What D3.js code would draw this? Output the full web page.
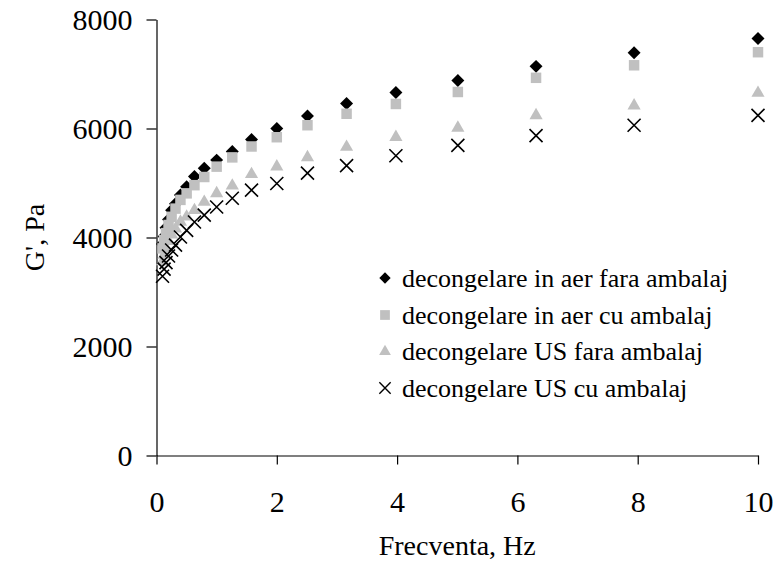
<!DOCTYPE html>
<html>
<head>
<meta charset="utf-8">
<script src="https://cdn.jsdelivr.net/npm/d3@7"></script>
<style>
  html, body { margin: 0; padding: 0; background: #fff; }
  svg { display: block; font-family: "Liberation Serif", "Times New Roman", serif; }
</style>
</head>
<body>
<svg id="chart" width="776" height="561"></svg>
<script>
// Oscillation frequency, Hz
const freq = [0.1, 0.126, 0.158, 0.2, 0.251, 0.316, 0.398, 0.501, 0.631, 0.794, 1, 1.26, 1.58, 2, 2.51, 3.16, 3.98, 5.01, 6.31, 7.94, 10];

// Storage modulus G', Pa
const aerFara = [3880, 4020, 4180, 4330, 4500, 4620, 4780, 4930, 5120, 5270, 5420, 5580, 5800, 6000, 6230, 6460, 6660, 6880, 7140, 7390, 7650];
const aerCu   = [3800, 3950, 4080, 4230, 4380, 4530, 4690, 4810, 4960, 5110, 5300, 5470, 5670, 5840, 6060, 6270, 6450, 6670, 6930, 7160, 7400];
const usFara  = [3560, 3680, 3800, 3930, 4050, 4160, 4285, 4380, 4500, 4650, 4810, 4950, 5160, 5300, 5470, 5660, 5840, 6010, 6240, 6420, 6650];
const usCu    = [3290, 3420, 3540, 3660, 3770, 3860, 4010, 4130, 4285, 4410, 4560, 4720, 4870, 4990, 5180, 5320, 5500, 5690, 5870, 6060, 6240];

const seriesNames = [
  "decongelare in aer fara ambalaj",
  "decongelare in aer cu ambalaj",
  "decongelare US fara ambalaj",
  "decongelare US cu ambalaj"
];

const xTicks = [0, 2, 4, 6, 8, 10];
const yTicks = [0, 2000, 4000, 6000, 8000];

const svg = d3.select("#chart");
const plotLeft = 156.5, plotRight = 758, plotTop = 19.5, plotBottom = 455.5;

const x = d3.scaleLinear().domain([0, 10]).range([plotLeft, plotRight]);
const y = d3.scaleLinear().domain([0, 8000]).range([plotBottom, plotTop]);

// Marker styles per series
const styles = [
  { sym: d3.symbolSquare, size: 84, rot: 45, fill: "#000", stroke: "none", lsize: 64 },
  { sym: d3.symbolSquare, size: 110, rot: 0, fill: "#c0c0c0", stroke: "none", lsize: 95 },
  { sym: d3.symbolTriangle, size: 75, rot: 0, fill: "#c0c0c0", stroke: "none", lsize: 60 },
  { sym: d3.symbolTimes, size: 112, rot: 0, fill: "none", stroke: "#000", lsize: 85 }
];

const series = [aerFara, aerCu, usFara, usCu];

// Axes
const fmt = d3.format("d");
const yAxis = d3.axisLeft(y).tickValues(yTicks).tickFormat(fmt).tickSize(9).tickPadding(14).tickSizeOuter(0);
const xAxis = d3.axisBottom(x).tickValues(xTicks).tickFormat(fmt).tickSize(9).tickPadding(26).tickSizeOuter(0);

const gy = svg.append("g").attr("transform", `translate(${plotLeft},0)`).call(yAxis);
const gx = svg.append("g").attr("transform", `translate(0,${plotBottom})`).call(xAxis);

[gy, gx].forEach(g => {
  g.select(".domain").attr("stroke", "#000").attr("stroke-width", 1.2);
  g.selectAll(".tick line").attr("stroke", "#000").attr("stroke-width", 1.2);
  g.selectAll(".tick text")
    .attr("fill", "#000")
    .style("font-family", "'Liberation Serif', 'Times New Roman', serif")
    .style("font-size", "30px");
});
gy.selectAll(".tick line").attr("x2", -10);
gy.selectAll(".tick text").attr("x", -24);

// Axis titles
svg.append("text")
  .attr("x", (plotLeft + plotRight) / 2)
  .attr("y", 555)
  .attr("text-anchor", "middle")
  .style("font-size", "28px")
  .text("Frecventa, Hz");

svg.append("text")
  .attr("transform", `translate(44,${(plotTop + plotBottom) / 2}) rotate(-90)`)
  .attr("text-anchor", "middle")
  .style("font-size", "28px")
  .text("G', Pa");

// Data markers
series.forEach((vals, i) => {
  const st = styles[i];
  const path = d3.symbol(st.sym, st.size)();
  svg.append("g")
    .selectAll("path")
    .data(vals.map((v, k) => [freq[k], v]))
    .join("path")
    .attr("d", path)
    .attr("transform", d => `translate(${x(d[0])},${y(d[1])}) rotate(${st.rot})`)
    .attr("fill", st.fill)
    .attr("stroke", st.stroke)
    .attr("stroke-width", 1.6);
});

// Legend
const legY = [278, 315, 351.5, 388];
const leg = svg.append("g");
seriesNames.forEach((name, i) => {
  const st = styles[i];
  leg.append("path")
    .attr("d", d3.symbol(st.sym, st.lsize)())
    .attr("transform", `translate(385,${legY[i]}) rotate(${st.rot})`)
    .attr("fill", st.fill)
    .attr("stroke", st.stroke)
    .attr("stroke-width", 1.4);
  leg.append("text")
    .attr("x", 402)
    .attr("y", legY[i] + 8.5)
    .style("font-size", "26px")
    .text(name);
});
</script>
</body>
</html>
